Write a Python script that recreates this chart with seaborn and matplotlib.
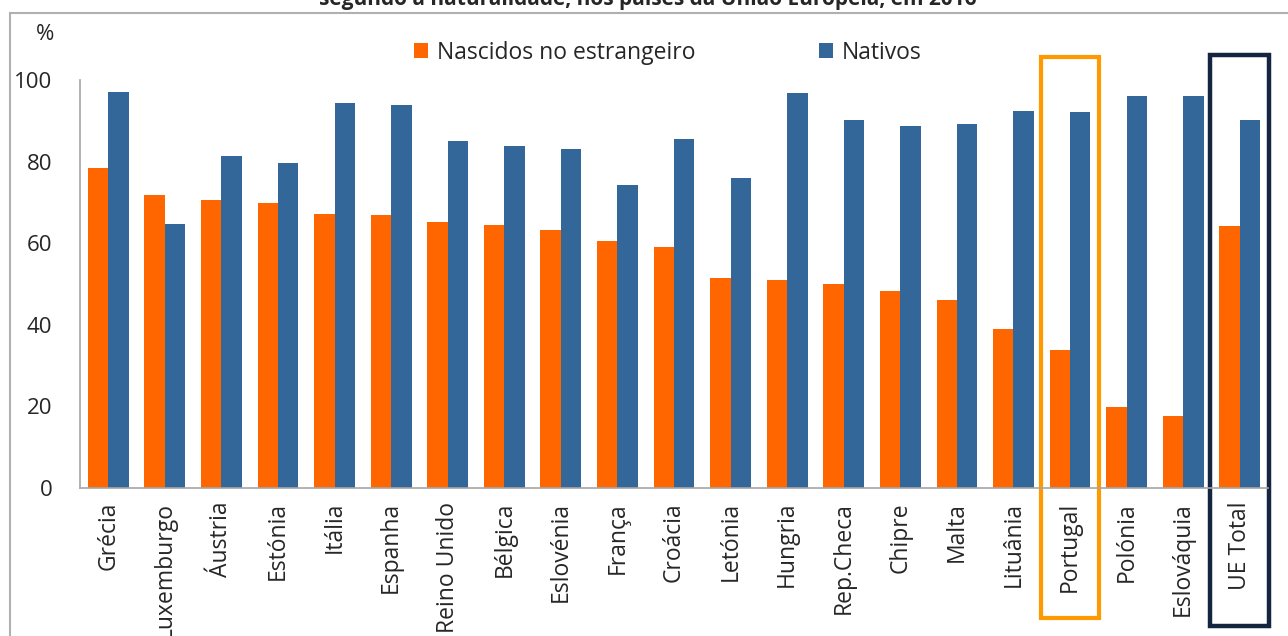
import pandas as pd
import numpy as np
import matplotlib.pyplot as plt
import seaborn as sns
from matplotlib.patches import Rectangle

# data
paises = ['Grécia', 'Luxemburgo', 'Áustria', 'Estónia', 'Itália', 'Espanha',
          'Reino Unido', 'Bélgica', 'Eslovénia', 'França', 'Croácia', 'Letónia',
          'Hungria', 'Rep.Checa', 'Chipre', 'Malta', 'Lituânia', 'Portugal',
          'Polónia', 'Eslováquia', 'UE Total']
estrangeiro = [78.4, 71.8, 70.6, 69.9, 67.2, 66.9, 65.2, 64.5, 63.2, 60.5, 59.1,
               51.5, 51.0, 50.0, 48.3, 46.1, 39.0, 33.8, 19.9, 17.6, 64.2]
nativos = [97.1, 64.7, 81.4, 79.7, 94.4, 93.9, 85.0, 83.8, 83.1, 74.3, 85.5,
           76.0, 96.8, 90.2, 88.7, 89.2, 92.4, 92.2, 96.1, 96.1, 90.2]
series = ['Nascidos no estrangeiro', 'Nativos']
cores = ['#FF6600', '#336699']

df = pd.DataFrame({'pais': paises * 2,
                   'valor': estrangeiro + nativos,
                   'grupo': [series[0]] * len(paises) + [series[1]] * len(paises)})

sns.set_style('white')
plt.rcParams['font.family'] = ['Open Sans', 'DejaVu Sans']

fig = plt.figure(figsize=(12.88, 6.36), dpi=100)
ax = fig.add_axes([0.0621, 0.2327, 0.9224, 0.6415])

sns.barplot(data=df, x='pais', y='valor', hue='grupo', palette=cores,
            width=0.72, linewidth=0, saturation=1, ax=ax)

ax.set_xlim(-0.5, len(paises) - 0.5)
ax.set_ylim(0, 100)
ax.set_yticks(range(0, 101, 20))
ax.set_xlabel('')
ax.set_ylabel('')
ax.tick_params(axis='x', labelrotation=90, labelsize=16.5, length=0, pad=10)
ax.tick_params(axis='y', labelsize=16, length=0, pad=20)
for s in ['top', 'right']:
    ax.spines[s].set_visible(False)
for s in ['left', 'bottom']:
    ax.spines[s].set_color('#A6A6A6')
    ax.spines[s].set_linewidth(1.2)

# legend
h, l = ax.get_legend_handles_labels()
ax.legend(h, l, loc='center', bbox_to_anchor=(0.5186, 0.917),
          bbox_transform=fig.transFigure, ncol=2, frameon=False,
          fontsize=16.5, handlelength=0.6, handleheight=0.6, handletextpad=0.4,
          columnspacing=5.4)

fig.text(0.035, 0.945, '%', fontsize=16, ha='center', va='center')

# highlight boxes
i_pt = paises.index('Portugal')
i_ue = paises.index('UE Total')
ax.add_patch(Rectangle((i_pt - 0.52, -31.9), 1.04, 137.5, fill=False,
                       edgecolor='#FF9900', linewidth=3, clip_on=False))
ax.add_patch(Rectangle((i_ue - 0.52, -33.8), 1.04, 139.9, fill=False,
                       edgecolor='#14253F', linewidth=3.2, clip_on=False))

# outer frame and clipped title
fig.patches.append(Rectangle((0.008, -0.05), 1.1, 1.03, transform=fig.transFigure,
                             fill=False, edgecolor='#B0B0B0', linewidth=1.5))
fig.text(0.503, 1.0, 'segundo a naturalidade, nos países da União Europeia, em 2016',
         fontsize=15, fontweight='bold', ha='center', va='center')

fig.savefig('out.png', dpi=100)
